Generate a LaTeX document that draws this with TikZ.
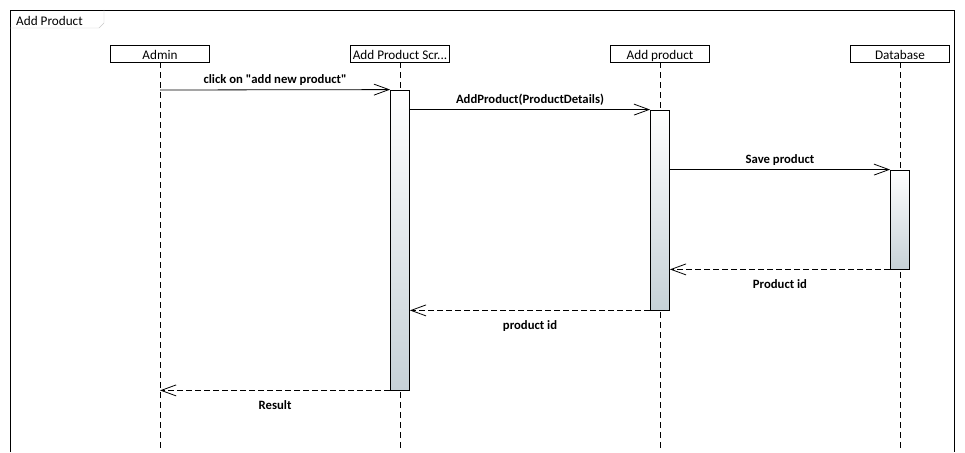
\documentclass[tikz,border=0pt]{standalone}
\usepackage{fontspec}
\setmainfont{Carlito}[Ligatures=TeXOff]
\usetikzlibrary{arrows.meta}
\definecolor{actbottom}{RGB}{198,209,215}
\definecolor{tabgray}{RGB}{200,200,200}
\tikzset{
    head/.style={rectangle, draw, thick, minimum width=99pt, minimum height=17pt, inner sep=0pt, text height=12pt, text depth=0pt, font=\fontsize{13.2}{15}\selectfont},
    life/.style={thick, dash pattern=on 6pt off 4pt},
    act/.style={rectangle, draw, thick, minimum width=19pt, inner sep=0pt, top color=white, bottom color=actbottom},
    msg/.style={thick, -{Straight Barb[length=15pt, width=11pt]}},
    reply/.style={msg, dash pattern=on 6pt off 3pt},
    lbl/.style={font=\bfseries\fontsize{12.7}{15}\selectfont, inner sep=0pt}
}
\begin{document}
\begin{tikzpicture}[x=1pt, y=-1pt]
    \useasboundingbox (0,0) rectangle (965,452);
    \draw[thick] (10,452) -- (10,10) -- (954,10) -- (954,452);
    \draw[tabgray] (10,28) -- (99,28) -- (104,23) -- (104,10);
    \node(frametitle) [anchor=west, inner sep=0pt, font=\fontsize{13.2}{15}\selectfont] at (16,20.5) {Add Product};

    \node(admin) [head] at (160,53.5) {Admin};
    \node(screen) [head] at (400,53.5) {Add Product Scr...};
    \node(addprod) [head] at (660,53.5) {Add product};
    \node(database) [head] at (900,53.5) {Database};

    \coordinate (adminend) at (160,452);
    \coordinate (screenend) at (400,452);
    \coordinate (addprodend) at (660,452);
    \coordinate (databaseend) at (900,452);
    \draw[life] (admin) -- (adminend);
    \draw[life] (screen) -- (screenend);
    \draw[life] (addprod) -- (addprodend);
    \draw[life] (database) -- (databaseend);

    \node(screenact) [act, minimum height=300pt] at (400,240) {};
    \node(addprodact) [act, minimum height=200pt] at (660,210) {};
    \node(databaseact) [act, minimum height=99pt] at (900,219.5) {};

    \coordinate (click) at (160,90);
    \draw[msg] (click) -- (screenact.north west)
        node[lbl, midway, above=4pt] {click on "add new product"};
    \draw[msg] (screenact.east |- addprodact.north) -- (addprodact.north west)
        node[lbl, midway, above=4pt] {AddProduct(ProductDetails)};
    \draw[msg] (addprodact.east |- databaseact.north) -- (databaseact.north west)
        node[lbl, midway, above=4pt] {Save product};
    \draw[reply] (databaseact.south west) -- (databaseact.south west -| addprodact.east)
        node[lbl, midway, below=10pt] {Product id};
    \draw[reply] (addprodact.south west) -- (addprodact.south west -| screenact.east)
        node[lbl, midway, below=10pt] {product id};
    \draw[reply] (screenact.south west) -- (screenact.south west -| admin)
        node[lbl, midway, below=10pt] {Result};
\end{tikzpicture}
\end{document}
